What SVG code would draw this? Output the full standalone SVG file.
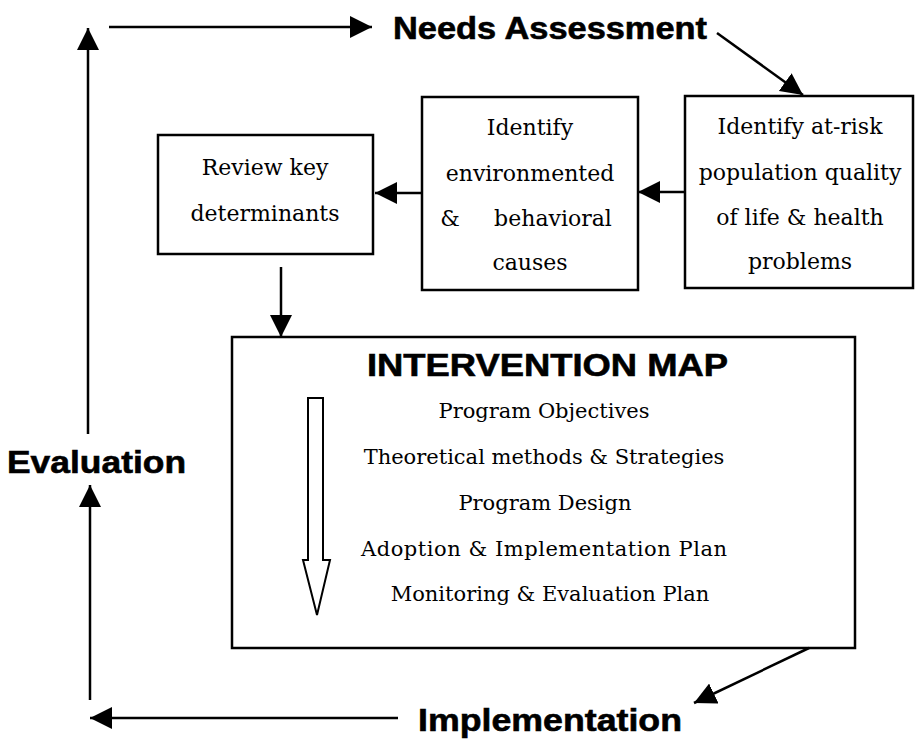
<svg xmlns="http://www.w3.org/2000/svg" width="915" height="740" viewBox="0 0 915 740">
  <style>
    .box { fill: #fff; stroke: #000; stroke-width: 2.5; }
    .lbl { font-family: "DejaVu Serif", "Liberation Serif", serif; font-size: 22px; text-anchor: middle; fill: #000; }
    .item { font-family: "DejaVu Serif", "Liberation Serif", serif; font-size: 21px; text-anchor: middle; fill: #000; }
    .stage { font-family: "Liberation Sans", Arial, sans-serif; font-weight: bold; font-size: 32px; fill: #000; stroke: #000; stroke-width: 0.6; }
    .conn { stroke: #000; stroke-width: 2.5; fill: none; marker-end: url(#ah); }
    .hollow { fill: #fff; stroke: #000; stroke-width: 2; stroke-linejoin: miter; }
  </style>
  <defs>
    <marker id="ah" markerUnits="userSpaceOnUse" markerWidth="22" markerHeight="22" refX="22" refY="11" orient="auto" viewBox="0 0 22 22">
      <path d="M0,0 L22,11 L0,22 z" fill="#000"/>
    </marker>
  </defs>

  <rect width="915" height="740" fill="#fff"/>

  <!-- cycle stage labels -->
  <g id="needs-assessment">
    <text class="stage" x="393" y="39" textLength="314" lengthAdjust="spacingAndGlyphs">Needs Assessment</text>
  </g>
  <g id="evaluation">
    <text class="stage" x="7" y="473" textLength="179" lengthAdjust="spacingAndGlyphs">Evaluation</text>
  </g>
  <g id="implementation">
    <text class="stage" x="418" y="731" font-size="31" textLength="264" lengthAdjust="spacingAndGlyphs">Implementation</text>
  </g>

  <!-- step boxes -->
  <g id="review-determinants">
    <rect class="box" x="158" y="135" width="215" height="119"/>
    <text class="lbl" x="265" y="175">Review key</text>
    <text class="lbl" x="265" y="221">determinants</text>
  </g>
  <g id="identify-causes">
    <rect class="box" x="422" y="97" width="216" height="193"/>
    <text class="lbl" x="530" y="135">Identify</text>
    <text class="lbl" x="530" y="181">environmented</text>
    <text class="lbl" y="226"><tspan x="450">&amp;</tspan><tspan x="553">behavioral</tspan></text>
    <text class="lbl" x="530" y="270">causes</text>
  </g>
  <g id="identify-population">
    <rect class="box" x="685" y="96" width="228" height="192"/>
    <text class="lbl" x="800" y="134">Identify at-risk</text>
    <text class="lbl" x="800" y="180">population quality</text>
    <text class="lbl" x="800" y="225">of life &amp; health</text>
    <text class="lbl" x="800" y="269">problems</text>
  </g>
  <g id="intervention-map">
    <rect class="box" x="232" y="337" width="623" height="311"/>
    <text class="stage" x="367" y="376" font-size="34" textLength="361" lengthAdjust="spacingAndGlyphs">INTERVENTION MAP</text>
    <polygon class="hollow" points="308,398 323,398 323,560 330,560 317,615 303,560 308,560"/>
    <text class="item" x="544" y="418">Program Objectives</text>
    <text class="item" x="544" y="464">Theoretical methods &amp; Strategies</text>
    <text class="item" x="545" y="510">Program Design</text>
    <text class="item" x="544" y="556" textLength="366">Adoption &amp; Implementation Plan</text>
    <text class="item" x="550" y="601">Monitoring &amp; Evaluation Plan</text>
  </g>

  <!-- connectors -->
  <g id="connectors">
    <line class="conn" x1="109" y1="27" x2="372" y2="27"/>
    <line class="conn" x1="717" y1="33" x2="803" y2="95"/>
    <line class="conn" x1="685" y1="192" x2="638" y2="192"/>
    <line class="conn" x1="422" y1="193" x2="375" y2="193"/>
    <line class="conn" x1="281" y1="267" x2="281" y2="337"/>
    <line class="conn" x1="809" y1="648" x2="694" y2="703"/>
    <line class="conn" x1="398" y1="718" x2="90" y2="718"/>
    <line class="conn" x1="90" y1="700" x2="90" y2="485"/>
    <line class="conn" x1="88" y1="434" x2="88" y2="28"/>
  </g>
</svg>
